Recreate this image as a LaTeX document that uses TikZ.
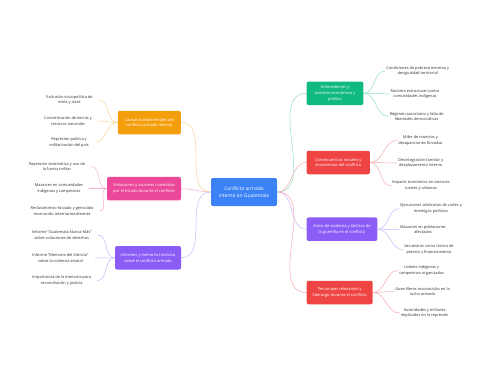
\documentclass[tikz,border=0pt]{standalone}
\usepackage{fontspec}
\setmainfont{Open Sans}
\usepackage{tikz}
\usetikzlibrary{positioning,calc}
\definecolor{rootblue}{HTML}{3B82F6}
\definecolor{causaorange}{HTML}{F59E0B}
\definecolor{violpink}{HTML}{EC4899}
\definecolor{infopurple}{HTML}{8B5CF6}
\definecolor{antegreen}{HTML}{10B981}
\definecolor{consred}{HTML}{EF4444}
\definecolor{leafgray}{HTML}{333333}
\tikzset{
  rootbox/.style={fill=rootblue,text=white,rounded corners=2pt,align=center,
    minimum width=66pt,minimum height=28pt,inner sep=1pt,
    font=\fontsize{4.9}{6.5}\selectfont},
  topicbox/.style={fill=#1,text=white,rounded corners=2pt,align=center,
    minimum height=23.5pt,inner sep=1pt,
    font=\fontsize{4}{5.7}\selectfont},
  leaftext/.style={text=leafgray,align=center,inner sep=1pt,
    font=\fontsize{3.9}{5.6}\selectfont},
  branch/.style={draw=#1!45,line width=0.5pt}
}
\begin{document}
\begin{tikzpicture}[x=1pt,y=-1pt]
  \useasboundingbox (0,0) rectangle (480,384);
  \fill[white] (0,0) rectangle (480,384);
  % nodo central
  \node[rootbox] (root) at (244,192) {Conflicto armado\\interno en Guatemala};
  % ramas izquierdas
  \node[topicbox=causaorange,minimum width=63pt] (causas) at (149.3,122.5)
    {Causas fundamentales del\\conflicto armado interno};
  \node[topicbox=violpink,minimum width=74pt] (violaciones) at (144,188.7)
    {Violaciones y acciones cometidas\\por el Estado durante el conflicto};
  \node[topicbox=infopurple,minimum width=66pt] (informes) at (148,257.8)
    {Informes y memoria histórica\\sobre el conflicto armado};
  % ramas derechas
  \node[topicbox=antegreen,minimum width=56.6pt] (antecedentes) at (335,93.3)
    {Antecedentes y\\contexto económico y\\político};
  \node[topicbox=consred,minimum width=63.3pt] (consecuencias) at (338.3,162.5)
    {Consecuencias sociales y\\económicas del conflicto};
  \node[topicbox=infopurple,minimum width=70.6pt] (actos) at (342,229.2)
    {Actos de violencia y tácticas de\\la guerrilla en el conflicto};
  \node[topicbox=consred,minimum width=66pt] (personajes) at (339.7,292.5)
    {Personajes relevantes y\\liderazgo durante el conflicto};
  % conectores del centro
  \foreach \topic/\col in {causas/causaorange, violaciones/violpink, informes/infopurple}
    \draw[branch=\col] (root.west) to[out=180,in=0] (\topic.east);
  \foreach \topic/\col in {antecedentes/antegreen, consecuencias/consred, actos/infopurple, personajes/consred}
    \draw[branch=\col] (root.east) to[out=0,in=180] (\topic.west);
  % hojas izquierdas
  \foreach \name/\x/\y/\txt in {
      exclusion/69.5/100/{Exclusión sociopolítica de\\etnia y clase},
      tierras/68/121/{Concentración de tierras y\\recursos naturales},
      represion/69/142.5/{Represión política y\\militarización del país}} {
    \node[leaftext] (\name) at (\x,\y) {\txt};
    \draw[branch=causaorange] (causas.west) to[out=180,in=0] ([xshift=5pt]\name.east);
  }
  \foreach \name/\x/\y/\txt in {
      sistematica/57/166.5/{Represión sistemática y uso de\\la fuerza militar},
      masacres/59/188.7/{Masacres en comunidades\\indígenas y campesinas},
      genocidio/62/211/{Reclutamiento forzado y genocidio\\reconocido internacionalmente}} {
    \node[leaftext] (\name) at (\x,\y) {\txt};
    \draw[branch=violpink] (violaciones.west) to[out=180,in=0] ([xshift=5pt]\name.east);
  }
  \foreach \name/\x/\y/\txt in {
      nuncamas/61.7/235/{Informe ``Guatemala Nunca Más''\\sobre violaciones de derechos},
      silencio/60.5/258/{Informe ``Memoria del Silencio''\\sobre la violencia estatal},
      memoria/61.7/280.7/{Importancia de la memoria para\\reconciliación y justicia}} {
    \node[leaftext] (\name) at (\x,\y) {\txt};
    \draw[branch=infopurple] (informes.west) to[out=180,in=0] ([xshift=5pt]\name.east);
  }
  % hojas derechas
  \foreach \name/\x/\y/\txt in {
      pobreza/417.7/71/{Condiciones de pobreza extrema y\\desigualdad territorial},
      racismo/415/93.8/{Racismo estructural contra\\comunidades indígenas},
      regimen/416.7/116.5/{Régimen autoritario y falta de\\libertades democráticas}} {
    \node[leaftext] (\name) at (\x,\y) {\txt};
    \draw[branch=antegreen] (antecedentes.east) to[out=0,in=180] (\name.west);
  }
  \foreach \name/\x/\y/\txt in {
      muertos/420.5/140.3/{Miles de muertos y\\desapariciones forzadas},
      desplazamiento/420.7/163/{Desintegración familiar y\\desplazamiento interno},
      impacto/420.8/185.7/{Impacto económico en sectores\\rurales y urbanos}} {
    \node[leaftext] (\name) at (\x,\y) {\txt};
    \draw[branch=consred] (consecuencias.east) to[out=0,in=180] (\name.west);
  }
  \foreach \name/\x/\y/\txt in {
      ejecuciones/431/208.7/{Ejecuciones arbitrarias de civiles y\\enemigos políticos},
      poblaciones/423/229.5/{Masacres en poblaciones\\afectadas},
      secuestros/429/249.7/{Secuestros como táctica de\\presión y financiamiento}} {
    \node[leaftext] (\name) at (\x,\y) {\txt};
    \draw[branch=infopurple] (actos.east) to[out=0,in=180] (\name.west);
  }
  \foreach \name/\x/\y/\txt in {
      lideres/421.7/270.5/{Líderes indígenas y\\campesinos organizados},
      guerrilleros/422.5/291.5/{Guerrilleros reconocidos en la\\lucha armada},
      autoridades/424.7/313/{Autoridades y militares\\implicados en la represión}} {
    \node[leaftext] (\name) at (\x,\y) {\txt};
    \draw[branch=consred] (personajes.east) to[out=0,in=180] (\name.west);
  }
\end{tikzpicture}
\end{document}
